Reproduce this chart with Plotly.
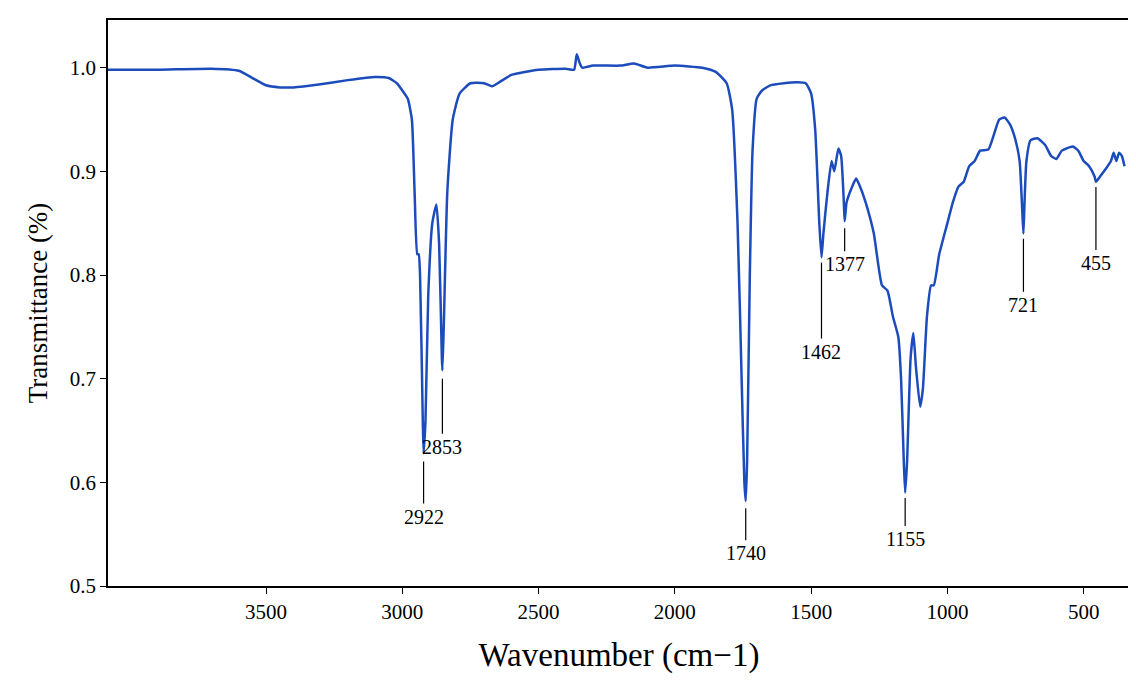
import plotly.graph_objects as go

wavenumber = [4080, 3900, 3700, 3600, 3550, 3500, 3450, 3400, 3300, 3200, 3100, 3050, 3020, 3000,
              2980, 2965, 2955, 2945, 2940, 2935, 2925, 2922, 2915, 2905, 2890, 2875, 2865, 2855,
              2853, 2848, 2835, 2815, 2790, 2750, 2700, 2670, 2650, 2600, 2500, 2400, 2370, 2360,
              2350, 2340, 2300, 2200, 2150, 2100, 2000, 1900, 1850, 1810, 1790, 1770, 1755, 1745,
              1740, 1735, 1725, 1715, 1700, 1680, 1650, 1600, 1550, 1520, 1500, 1485, 1470, 1462,
              1455, 1440, 1425, 1415, 1400, 1390, 1380, 1377, 1370, 1350, 1335, 1320, 1300, 1270,
              1240, 1220, 1200, 1180, 1170, 1160, 1155, 1148, 1135, 1125, 1115, 1100, 1090, 1075,
              1060, 1050, 1030, 1000, 980, 960, 940, 920, 900, 880, 850, 830, 810, 790, 770, 750,
              735, 725, 721, 717, 710, 695, 670, 640, 620, 600, 580, 540, 520, 500, 480, 460, 455,
              440, 420, 400, 390, 380, 370, 360, 350]
transmittance = [0.998, 0.998, 0.999, 0.997, 0.990, 0.983, 0.981, 0.981, 0.984, 0.988, 0.991, 0.990,
                 0.985, 0.978, 0.970, 0.950, 0.880, 0.820, 0.820, 0.800, 0.660, 0.628, 0.660, 0.780,
                 0.850, 0.868, 0.830, 0.720, 0.708, 0.750, 0.880, 0.950, 0.975, 0.985, 0.985, 0.982,
                 0.985, 0.993, 0.998, 0.999, 0.998, 1.013, 1.005, 1.000, 1.002, 1.002, 1.004, 1.000,
                 1.002, 1.000, 0.996, 0.985, 0.960, 0.850, 0.700, 0.600, 0.582, 0.620, 0.800, 0.920,
                 0.970, 0.978, 0.983, 0.985, 0.986, 0.985, 0.975, 0.940, 0.850, 0.817, 0.840, 0.880,
                 0.910, 0.900, 0.922, 0.915, 0.870, 0.852, 0.870, 0.885, 0.893, 0.885, 0.870, 0.840,
                 0.790, 0.785, 0.760, 0.740, 0.700, 0.620, 0.590, 0.620, 0.720, 0.744, 0.710, 0.673,
                 0.690, 0.760, 0.790, 0.790, 0.820, 0.850, 0.870, 0.885, 0.890, 0.905, 0.910, 0.920,
                 0.921, 0.935, 0.950, 0.952, 0.945, 0.930, 0.910, 0.860, 0.840, 0.870, 0.910, 0.930,
                 0.932, 0.925, 0.915, 0.912, 0.920, 0.924, 0.920, 0.910, 0.905, 0.895, 0.890, 0.895,
                 0.902, 0.910, 0.918, 0.910, 0.918, 0.915, 0.905]

# peak labels: position, tip of the leader line, leader length (px)
peak_wn = [2922, 2853, 1740, 1462, 1377, 1155, 721, 455]
peak_tip = [0.620, 0.700, 0.575, 0.812, 0.845, 0.585, 0.835, 0.885]
peak_len = [42, 55, 32, 76, 23, 28, 53, 63]

fig = go.Figure()
fig.add_trace(go.Scatter(x=wavenumber, y=transmittance, mode="lines",
                         line=dict(color="#1c4cbc", width=2.5, shape="spline", smoothing=0.5)))

for wn, tip, ln in zip(peak_wn, peak_tip, peak_len):
    fig.add_annotation(x=wn, y=tip, text=str(wn), showarrow=True, arrowhead=0,
                       arrowwidth=1.2, arrowcolor="black", ax=0, ay=ln, yanchor="top",
                       font=dict(size=20, color="black"))

axis_style = dict(showline=True, linecolor="black", linewidth=1.5, mirror=True, automargin=False,
                  ticks="outside", tickcolor="black", ticklen=6, showgrid=False, zeroline=False,
                  tickfont=dict(size=21, color="black"))
fig.update_xaxes(range=[4080, 330], tickvals=[3500, 3000, 2500, 2000, 1500, 1000, 500],
                 title=dict(text="Wavenumber (cm−1)", font=dict(size=33, color="black"), standoff=20),
                 **axis_style)
fig.update_yaxes(range=[0.5, 1.046], tickvals=[0.5, 0.6, 0.7, 0.8, 0.9, 1.0], tickformat=".1f",
                 title=dict(text="Transmittance (%)", font=dict(size=27, color="black"), standoff=14),
                 **axis_style)
fig.update_layout(width=1136, height=685, plot_bgcolor="white", paper_bgcolor="white",
                  showlegend=False, font=dict(family="Liberation Serif"),
                  margin=dict(l=100, r=14, t=12, b=107))
fig.write_html("out.html")
